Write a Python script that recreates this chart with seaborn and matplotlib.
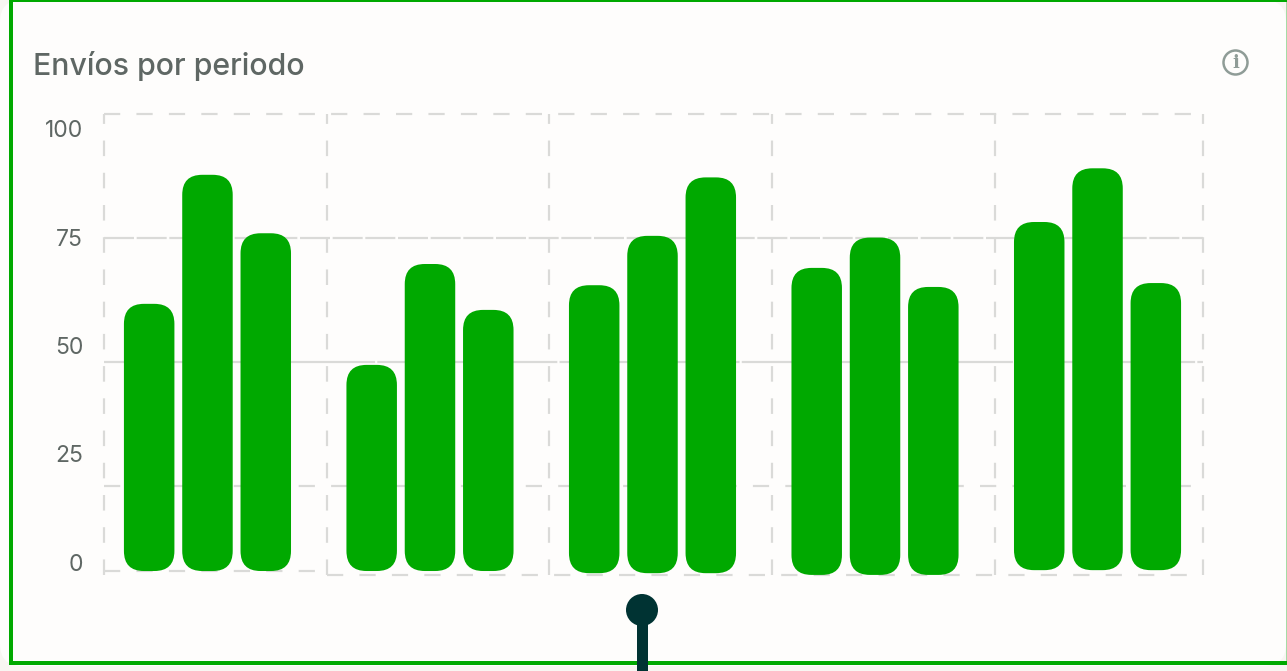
import matplotlib
matplotlib.use("Agg")
import matplotlib.pyplot as plt
import seaborn as sns
import pandas as pd
from matplotlib.patches import FancyBboxPatch, Rectangle, Circle
from matplotlib.transforms import ScaledTranslation

periods = ["P1", "P2", "P3", "P4", "P5"]
series_a = [61.7, 47.6, 66.0, 70.0, 80.6]
series_b = [91.5, 70.9, 77.4, 77.0, 93.0]
series_c = [78.0, 60.3, 90.9, 65.6, 66.5]
baseline = [0.0, 0.0, -0.5, -0.9, 0.2]
tick_vals = [0, 25, 50, 75, 100]
hgrid_vals = [105.5, 76.9, 48.3, 19.6]
vgrid_vals = [-0.465, 0.537, 1.535, 2.537, 3.539, 4.474]
title = "Envíos por periodo"

GREEN = "#00A900"
GRID = "#DADAD8"
TXT = "#5F6764"
PIN = "#003333"
W, H = 1287, 671

sns.set_theme(style="white")
plt.rcParams["font.family"] = ["Inter", "DejaVu Sans"]

fig = plt.figure(figsize=(W / 100, H / 100), dpi=100, facecolor="#F8F6F2")

def fx(p): return p / W
def fy(p): return 1 - p / H

# panel
def frect(x0, y0, x1, y1, color):
    fig.patches.append(Rectangle((fx(x0), fy(y1)), fx(x1 - x0), fy(y0) - fy(y1),
                                 transform=fig.transFigure, fc=color, ec="none", zorder=-5))

fig.patches.append(FancyBboxPatch((0, H - 666), 1286, 666, boxstyle="round,pad=0,rounding_size=22",
                                  transform=None, fc="#FEFDFC", ec="none", zorder=-6))
frect(9, 0, 13, 665, GREEN)
frect(9, 661, 1287, 665, GREEN)
frect(9, 0, 1287, 1.5, GREEN)
frect(1286, 1.5, 1287, 661, "#A5DCA5")

ax = fig.add_axes([fx(104), fy(575), fx(1203 - 104), fy(114) - fy(575)], zorder=2)
ax.patch.set_alpha(0)

df = pd.DataFrame({
    "periodo": periods * 3,
    "serie": ["a"] * 5 + ["b"] * 5 + ["c"] * 5,
    "valor": series_a + series_b + series_c,
})
sns.barplot(data=df, x="periodo", y="valor", hue="serie", palette=[GREEN] * 3,
            width=0.786, gap=0.134, legend=False, saturation=1, ax=ax, zorder=3)
ax.set_xlim(vgrid_vals[0], vgrid_vals[-1])
ax.set_ylim(-0.92, 105.54)
ax.set_xlabel("")
ax.set_ylabel("")
ax.set_xticks([])
sns.despine(ax=ax, left=True, bottom=True, top=True, right=True)

# rounded bars
px_x = (1203 - 104) / (vgrid_vals[-1] - vgrid_vals[0])
px_y = (575 - 114) / (105.54 + 0.92)
radius = 20 / px_x
for bar in list(ax.patches):
    x, w, h = bar.get_x(), bar.get_width(), bar.get_height()
    idx = int(round(x + w / 2))
    b = baseline[idx]
    ax.add_patch(FancyBboxPatch((x, b), w, h - b,
        boxstyle=f"round,pad=0,rounding_size={radius}", mutation_aspect=px_x / px_y,
        fc=GREEN, ec="none", zorder=3))
    bar.remove()

# grid
dash = dict(color=GRID, lw=1.6, zorder=1, clip_on=False)
ax.axhline(hgrid_vals[0], linestyle=(0, (7.3, 7.3)), **dash)
ax.axhline(hgrid_vals[1], linestyle=(0, (13.5, 1.2)), **dash)
ax.axhline(hgrid_vals[2], linestyle=(0, (40, 1)), **dash)
ax.axhline(hgrid_vals[3], linestyle=(0, (7.3, 7.3)), **dash)
for v in vgrid_vals:
    ax.axvline(v, linestyle=(0, (7, 7.5)), **dash)
ax.plot([vgrid_vals[0], vgrid_vals[1]], [0, 0], linestyle=(0, (7.3, 7.3)), **dash)
ax.plot([vgrid_vals[1], vgrid_vals[-1]], [-0.92, -0.92], linestyle=(0, (7.3, 7.3)), **dash)

# y ticks (labels sit above the value)
ax.set_yticks(tick_vals)
ax.set_yticklabels([str(t) for t in tick_vals], fontsize=16.5, color=TXT, fontweight="normal")
ax.tick_params(axis="y", length=0, pad=15)
off = ScaledTranslation(0, 9 / 100, fig.dpi_scale_trans)
for lab in ax.get_yticklabels():
    lab.set_transform(lab.get_transform() + off)

fig.text(fx(33), fy(66), title, fontsize=21.8, color=TXT, fontweight="medium", va="center", ha="left")

# info icon
fig.add_artist(Circle((1235.5, H - 62.5), 12, transform=None, fc="none", ec="#8F9C97", lw=1.8, zorder=3))
fig.text(fx(1235.5), fy(62.5), "i", fontsize=13, color="#8F9C97", family="DejaVu Serif",
         fontweight="bold", ha="center", va="center")

# pin
fig.add_artist(Rectangle((637, -2), 11, H - 610 + 2, transform=None, fc=PIN, ec="none", zorder=3))
fig.add_artist(Circle((642, H - 610), 16, transform=None, fc=PIN, ec="none", zorder=3))

fig.savefig("out.png", dpi=100, facecolor=fig.get_facecolor())
